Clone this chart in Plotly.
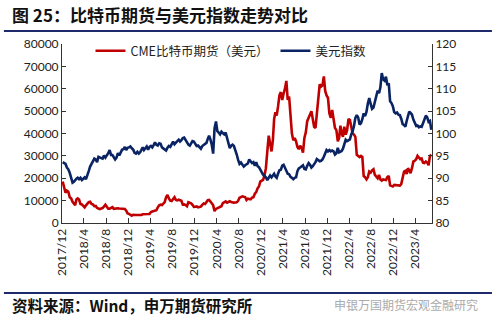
import pandas as pd
import plotly.graph_objects as go

months = pd.date_range("2017-12-01", "2023-06-01", freq="MS")

btc = [
    [18500, 16000, 13500, 14500],
    [14000, 11500, 11000, 9500],
    [8500, 8000, 10500, 11000],
    [10500, 8500, 8300, 7500],
    [7000, 7900, 8900, 9300],
    [9500, 8500, 8300, 7500],
    [7600, 6700, 6500, 6200],
    [6500, 6700, 7400, 8200],
    [7300, 6400, 6400, 6700],
    [7100, 6300, 6500, 6600],
    [6600, 6500, 6500, 6400],
    [6400, 6300, 5500, 4300],
    [4100, 3500, 3300, 3700],
    [3800, 3600, 3600, 3500],
    [3450, 3600, 3900, 3850],
    [3850, 3900, 4000, 4050],
    [4900, 5100, 5300, 5300],
    [5700, 7000, 7900, 8200],
    [8000, 8700, 9300, 11500],
    [12500, 11000, 10000, 9800],
    [10500, 11500, 10300, 10100],
    [10400, 10300, 9900, 8200],
    [8300, 8000, 7500, 9300],
    [9200, 8800, 8100, 7200],
    [7300, 7400, 7000, 7300],
    [7300, 8100, 8700, 8500],
    [9400, 10200, 10300, 9700],
    [8800, 7900, 5300, 6300],
    [6700, 6900, 7100, 7500],
    [8900, 9300, 9700, 9100],
    [9500, 9700, 9400, 9200],
    [9100, 9200, 9300, 9900],
    [11300, 11600, 11900, 11700],
    [11600, 10300, 10900, 10700],
    [10600, 11300, 11500, 13100],
    [13800, 15500, 16300, 18500],
    [19000, 19300, 21300, 24500],
    [32000, 39000, 35500, 32000],
    [37000, 46500, 49500, 48000],
    [52000, 57000, 58500, 55000],
    [58000, 60000, 63500, 55000],
    [56500, 50000, 40000, 37000],
    [38000, 36500, 34000, 33000],
    [34500, 33500, 31500, 38000],
    [40500, 45500, 47500, 48500],
    [50000, 46500, 43000, 42500],
    [48000, 56500, 62000, 61000],
    [61500, 65500, 59000, 57000],
    [56000, 49000, 47000, 50500],
    [46500, 42500, 41500, 36500],
    [38000, 43500, 40000, 38500],
    [43000, 39500, 41500, 46500],
    [46000, 42500, 40000, 39500],
    [38500, 30500, 30000, 29500],
    [30000, 29500, 21000, 20500],
    [19500, 20500, 23000, 22500],
    [23500, 24000, 21500, 20500],
    [20000, 21500, 19500, 19000],
    [19500, 19300, 19200, 20500],
    [21000, 16800, 16500, 16300],
    [17000, 16900, 16800, 16600],
    [16700, 17400, 21000, 23000],
    [23300, 21900, 24500, 23500],
    [22300, 24500, 27500, 27800],
    [28500, 30000, 29000, 28500],
    [28800, 27000, 26800, 27500],
    [27000, 25800, 30000, 30500],
]

dxy = [
    [93.6, 93.4, 93.2, 92.4],
    [92.0, 91.2, 90.2, 89.0],
    [89.2, 89.6, 89.9, 90.1],
    [89.8, 90.1, 89.6, 89.9],
    [90.2, 89.8, 90.5, 91.6],
    [92.6, 93.1, 93.6, 94.4],
    [94.2, 93.6, 94.8, 94.6],
    [94.5, 94.4, 95.1, 94.6],
    [95.0, 95.6, 96.3, 95.2],
    [95.2, 94.8, 94.2, 94.6],
    [95.6, 95.1, 95.8, 96.4],
    [96.5, 97.0, 96.3, 96.8],
    [96.9, 97.1, 96.7, 96.4],
    [95.7, 95.5, 95.9, 95.5],
    [95.8, 96.6, 96.9, 96.3],
    [96.6, 97.1, 96.4, 97.0],
    [97.2, 96.9, 97.4, 98.0],
    [97.5, 97.3, 97.8, 97.7],
    [96.9, 96.6, 96.4, 96.2],
    [96.8, 97.2, 97.0, 97.8],
    [98.2, 97.6, 98.1, 98.3],
    [98.6, 98.2, 98.5, 99.0],
    [99.1, 98.6, 97.8, 97.5],
    [97.3, 98.0, 98.3, 98.2],
    [97.7, 97.2, 97.3, 96.8],
    [96.6, 97.2, 97.5, 97.6],
    [97.9, 98.8, 99.5, 98.7],
    [97.5, 95.5, 101.2, 102.7],
    [100.5, 100.2, 99.8, 100.4],
    [100.1, 99.8, 100.2, 99.1],
    [98.0, 96.7, 97.3, 97.5],
    [97.2, 96.4, 95.3, 94.1],
    [93.2, 93.5, 93.0, 92.6],
    [92.9, 93.1, 93.3, 94.2],
    [93.8, 93.4, 93.6, 92.8],
    [93.6, 92.7, 92.5, 92.0],
    [91.2, 90.8, 90.5, 90.2],
    [89.6, 90.2, 90.6, 90.2],
    [90.6, 91.0, 90.4, 90.1],
    [91.0, 91.8, 91.9, 92.8],
    [93.0, 92.2, 91.6, 91.0],
    [90.9, 90.3, 90.1, 89.8],
    [90.1, 90.2, 91.6, 92.2],
    [92.4, 92.6, 92.9, 92.1],
    [92.0, 92.8, 93.4, 93.0],
    [92.4, 92.7, 93.1, 93.6],
    [94.3, 94.1, 93.8, 93.9],
    [94.2, 94.8, 95.6, 96.3],
    [96.0, 96.3, 96.0, 96.2],
    [96.0, 95.3, 95.6, 96.8],
    [95.8, 95.9, 96.1, 96.6],
    [97.6, 98.6, 98.3, 98.5],
    [98.7, 99.8, 100.5, 101.7],
    [103.5, 104.1, 103.6, 102.0],
    [102.3, 103.2, 104.5, 103.9],
    [104.8, 106.7, 107.9, 106.6],
    [105.5, 105.8, 107.2, 108.4],
    [109.6, 109.0, 110.3, 113.5],
    [112.1, 111.8, 112.7, 110.8],
    [111.2, 107.2, 106.8, 106.1],
    [104.8, 104.5, 104.7, 104.2],
    [104.1, 103.3, 102.1, 101.9],
    [101.5, 102.8, 103.8, 104.9],
    [104.6, 104.2, 103.1, 102.3],
    [101.7, 101.8, 101.4, 101.6],
    [101.5, 102.3, 103.2, 104.0],
    [103.6, 102.6, 102.8, 100.8],
]

tick_dates = pd.date_range("2017-12-01", "2023-04-01", freq="4MS")
tick_text = ["2017/12", "2018/4", "2018/8", "2018/12", "2019/4", "2019/8",
             "2019/12", "2020/4", "2020/8", "2020/12", "2021/4", "2021/8",
             "2021/12", "2022/4", "2022/8", "2022/12", "2023/4"]


def spread(month_starts, groups):
    xs, ys = [], []
    for m, vals in zip(month_starts, groups):
        days = (m + pd.offsets.MonthBegin(1) - m).days
        n = len(vals)
        for k, v in enumerate(vals):
            xs.append(m + pd.Timedelta(days=days * (k + 0.5) / n))
            ys.append(v)
    return xs, ys


bx, by = spread(months, btc)
dx, dy = spread(months, dxy)

RED = "#C00000"
NAVY = "#0A2463"
TICKFONT = dict(family="Lato, Noto Sans, sans-serif", size=12, color="#222222")
CJK = "Noto Sans CJK SC"
LEGFONT = dict(family=CJK, size=12.5, color="#222222")

fig = go.Figure()
fig.add_trace(go.Scatter(x=bx, y=by, mode="lines", name="CME比特币期货（美元）",
                         line=dict(color=RED, width=2.6), legend="legend"))
fig.add_trace(go.Scatter(x=dx, y=dy, mode="lines", name="美元指数", yaxis="y2",
                         line=dict(color=NAVY, width=2.6), legend="legend2"))

fig.update_layout(
    width=499, height=323,
    margin=dict(l=62, r=67, t=44, b=100),
    paper_bgcolor="white", plot_bgcolor="white",
    showlegend=True,
    legend=dict(orientation="h", x=0.077, y=0.96, xanchor="left", yanchor="middle",
                font=LEGFONT, bgcolor="rgba(0,0,0,0)", itemwidth=30),
    legend2=dict(orientation="h", x=0.577, y=0.96, xanchor="left", yanchor="middle",
                 font=LEGFONT, bgcolor="rgba(0,0,0,0)", itemwidth=30),
    xaxis=dict(type="date", range=["2017-12-01", "2023-07-01"],
               tickvals=list(tick_dates), ticktext=tick_text, tickangle=-90,
               ticks="inside", ticklen=5, tickcolor="#333333",
               showline=True, linecolor="#333333", linewidth=1,
               showgrid=False, zeroline=False, tickfont=TICKFONT),
    yaxis=dict(range=[0, 80000], dtick=10000, ticks="inside", ticklen=4,
               tickcolor="#333333", showline=True, linecolor="#333333",
               linewidth=1, showgrid=False, zeroline=False, tickfont=TICKFONT,
               tickformat="d"),
    yaxis2=dict(range=[80, 120], dtick=5, overlaying="y", side="right",
                ticks="inside", ticklen=4, tickcolor="#333333", showline=True,
                linecolor="#333333", linewidth=1, showgrid=False,
                zeroline=False, tickfont=TICKFONT),
)

fig.add_annotation(xref="paper", yref="paper", x=-0.14, y=1.167, xanchor="left",
                   yanchor="middle", showarrow=False,
                   text="<b>图 25：比特币期货与美元指数走势对比</b>",
                   font=dict(family=CJK, size=17, color="#111111"))
fig.add_annotation(xref="paper", yref="paper", x=-0.14, y=-0.458, xanchor="left",
                   yanchor="middle", showarrow=False,
                   text="<b>资料来源：Wind，申万期货研究所</b>",
                   font=dict(family=CJK, size=15.5, color="#111111"))
fig.add_annotation(xref="paper", yref="paper", x=1.13, y=-0.458, xanchor="right",
                   yanchor="middle", showarrow=False,
                   text="申银万国期货宏观金融研究",
                   font=dict(family=CJK, size=12, color="#AAAAAA"))
fig.add_shape(type="line", xref="paper", yref="paper", x0=-0.157, x1=1.162,
              y0=1.0726, y1=1.0726, line=dict(color="#1F2A6B", width=2))
fig.add_shape(type="line", xref="paper", yref="paper", x0=-0.157, x1=1.162,
              y0=-0.391, y1=-0.391, line=dict(color="#1F2A6B", width=2))

fig.write_html("out.html")
